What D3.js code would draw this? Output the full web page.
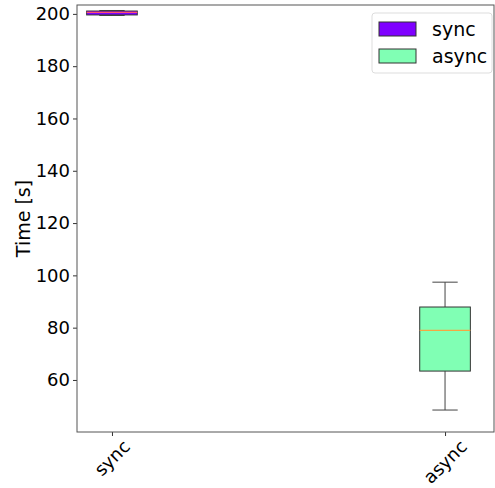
<!DOCTYPE html>
<html><head><meta charset="utf-8">
<script src="https://cdn.jsdelivr.net/npm/d3@7"></script>
<style>body{margin:0;background:#fff}svg{display:block}text{font-family:"DejaVu Sans",sans-serif;fill:#000}</style>
</head><body>
<script>
const categories = ["sync", "async"];
const colors = ["#7f00ff", "#80ffb4"];
// [whiskerLow, q1, median, q3, whiskerHigh]
const syncStats = [199.4, 199.6, 200.6, 201.1, 201.3];
const asyncStats = [48.5, 63.4, 79.0, 87.9, 97.4];
const yTicks = [60, 80, 100, 120, 140, 160, 180, 200];
const stats = [syncStats, asyncStats];

const W = 495, H = 488;
const L = 77, R = 494, T = 5, B = 432;
const svg = d3.select("body").append("svg").attr("width", W).attr("height", H);

const x = d3.scaleLinear().domain([0.895, 2.147]).range([L, R]);
const y = d3.scaleLinear().domain([40.1, 203.4]).range([B, T]);
const boxW = 0.152, capW = 0.076;

const yAxis = d3.axisLeft(y).tickValues(yTicks).tickSize(4).tickPadding(3);
const gy = svg.append("g").attr("transform", `translate(${L},0)`).call(yAxis);
gy.select(".domain").remove();
gy.selectAll("line").attr("stroke", "#333");
gy.selectAll("text").style("font-size", "18px").attr("fill", "#000");

const xAxis = d3.axisBottom(x).tickValues([1, 2]).tickFormat((d) => categories[d - 1]).tickSize(4);
const gx = svg.append("g").attr("transform", `translate(0,${B})`).call(xAxis);
gx.select(".domain").remove();
gx.selectAll("line").attr("stroke", "#333");
gx.selectAll("text").remove();
categories.forEach((c, i) => {
  const t = svg.append("text").text(c).style("font-size", "18px").attr("text-anchor", "middle").attr("dominant-baseline", "central");
  const w = t.node().getComputedTextLength();
  const h = 12;
  const cy = 439 + (w + h) * Math.SQRT1_2 / 2;
  const cx = x(i + 1);
  t.attr("x", cx).attr("y", cy).attr("transform", `rotate(-45,${cx},${cy})`);
});

svg.append("rect").attr("x", L).attr("y", T).attr("width", R - L).attr("height", B - T)
  .attr("fill", "none").attr("stroke", "#555").attr("stroke-width", 1);

svg.append("text").text("Time [s]").style("font-size", "19px").attr("text-anchor", "middle")
  .attr("transform", `translate(30,${(T + B) / 2}) rotate(-90)`);

stats.forEach((s, i) => {
  const p = i + 1;
  const g = svg.append("g");
  const lc = "#444";
  g.append("line").attr("x1", x(p)).attr("x2", x(p)).attr("y1", y(s[0])).attr("y2", y(s[1])).attr("stroke", lc);
  g.append("line").attr("x1", x(p)).attr("x2", x(p)).attr("y1", y(s[3])).attr("y2", y(s[4])).attr("stroke", lc);
  g.append("line").attr("x1", x(p - capW / 2)).attr("x2", x(p + capW / 2)).attr("y1", y(s[0])).attr("y2", y(s[0])).attr("stroke", lc);
  g.append("line").attr("x1", x(p - capW / 2)).attr("x2", x(p + capW / 2)).attr("y1", y(s[4])).attr("y2", y(s[4])).attr("stroke", lc);
  g.append("rect").attr("x", x(p - boxW / 2)).attr("width", x(p + boxW / 2) - x(p - boxW / 2))
    .attr("y", y(s[3])).attr("height", y(s[1]) - y(s[3]))
    .attr("fill", colors[i]).attr("stroke", "#333").attr("stroke-width", 1);
  g.append("line").attr("x1", x(p - boxW / 2)).attr("x2", x(p + boxW / 2)).attr("y1", y(s[2])).attr("y2", y(s[2]))
    .attr("stroke", i === 0 ? "#ff5070" : "#f5a742").attr("stroke-width", 1.2);
});

const lg = svg.append("g");
lg.append("rect").attr("x", 372).attr("y", 13).attr("width", 120).attr("height", 60).attr("rx", 3)
  .attr("fill", "#fff").attr("fill-opacity", 0.8).attr("stroke", "#ddd");
categories.forEach((c, i) => {
  const yy = 22 + i * 27;
  lg.append("rect").attr("x", 379).attr("y", yy).attr("width", 37).attr("height", 14)
    .attr("fill", colors[i]).attr("stroke", "#333");
  lg.append("text").text(c).attr("x", 432).attr("y", yy + 7).attr("dominant-baseline", "central").style("font-size", "19px");
});
</script>
</body></html>
